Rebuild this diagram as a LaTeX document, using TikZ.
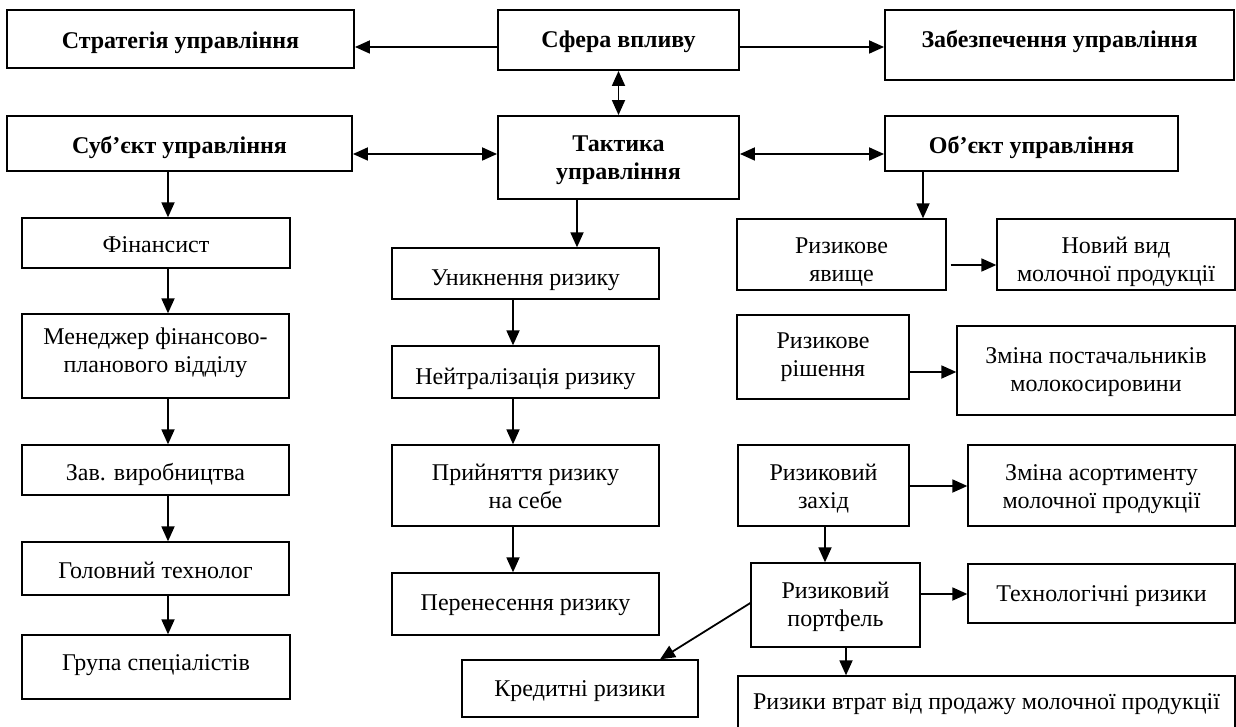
\documentclass[tikz,border=0pt]{standalone}
\usepackage{fontspec}
\setmainfont{Liberation Serif}
\usetikzlibrary{arrows.meta}

\tikzset{
    box/.style = {draw, line width=1.3pt, align=center, inner sep=0pt,
                  font=\fontsize{24}{28}\selectfont},
    topbox/.style = {box, line width=1.9pt, font=\fontsize{24}{28}\selectfont\bfseries},
    bl/.style = {text height=#1, text depth=0pt},
    arr/.style = {line width=1.8pt, -{Triangle[length=15pt,width=13pt]}},
    darr/.style = {line width=1.8pt, {Triangle[length=15pt,width=13pt]}-{Triangle[length=15pt,width=13pt]}}
}

\begin{document}
\begin{tikzpicture}[x=1pt, y=-1pt]
        \useasboundingbox (0, 0) rectangle (1236, 727);
        \clip (0, 0) rectangle (1236, 727);

        % upper level
        \node[topbox, bl=19pt, minimum width=347, minimum height=58] (strat) at (180.5, 39) {Стратегія управління};
        \node[topbox, bl=15pt, minimum width=241, minimum height=60] (sfera) at (618.5, 40) {Сфера впливу};
        \node[topbox, bl=6pt, minimum width=349, minimum height=70] (zabez) at (1059.5, 45) {Забезпечення управління};
        \node[topbox, bl=21pt, minimum width=345, minimum height=55] (subj) at (179.5, 143.5) {Суб’єкт управління};
        \node[topbox, bl=45pt, minimum width=241, minimum height=83] (takt) at (618.5, 157.5) {Тактика\\управління};
        \node[topbox, bl=21pt, minimum width=293, minimum height=55] (obj) at (1031.5, 143.5) {Об’єкт управління};

        % subject column
        \node[box, bl=19.4pt, minimum width=268, minimum height=50] (fin) at (156, 243) {Фінансист};
        \node[box, bl=32pt, minimum width=267, minimum height=84] (men) at (155.5, 356) {Менеджер фінансово-\\планового відділу};
        \node[box, bl=21.4pt, minimum width=267, minimum height=50] (zav) at (155.5, 470) {Зав. виробництва};
        \node[box, bl=19.6pt, minimum width=267, minimum height=53] (golov) at (155.5, 568.5) {Головний технолог};
        \node[box, bl=7.4pt, minimum width=268, minimum height=64] (grupa) at (156, 667) {Група спеціалістів};

        % tactics column
        \node[box, bl=24.4pt, minimum width=267, minimum height=51] (unyk) at (525.5, 273.5) {Уникнення ризику};
        \node[box, bl=24pt, minimum width=267, minimum height=52] (neutr) at (525.5, 372) {Нейтралізація ризику};
        \node[box, bl=45.6pt, minimum width=267, minimum height=81] (pryin) at (525.5, 485.5) {Прийняття ризику\\на себе};
        \node[box, bl=13.4pt, minimum width=267, minimum height=62] (peren) at (525.5, 604) {Перенесення ризику};
        \node[box, bl=15pt, minimum width=236, minimum height=57] (kred) at (580, 688.5) {Кредитні ризики};

        % object column
        \node[box, bl=54.4pt, minimum width=209, minimum height=71] (yavy) at (841.5, 254.5) {Ризикове\\явище};
        \node[box, bl=54.4pt, minimum width=238, minimum height=71] (novyi) at (1116, 254.5) {Новий вид\\молочної продукції};
        \node[box, bl=39.4pt, minimum width=172, minimum height=84] (rish) at (823, 357) {Ризикове\\рішення};
        \node[box, bl=42.4pt, minimum width=278, minimum height=89] (postach) at (1096, 370.5) {Зміна постачальників\\молокосировини};
        \node[box, bl=45pt, minimum width=171, minimum height=81] (zakhid) at (823.5, 485.5) {Ризиковий\\захід};
        \node[box, bl=45.6pt, minimum width=267, minimum height=81] (asort) at (1101.5, 485.5) {Зміна асортименту\\молочної продукції};
        \node[box, bl=43.4pt, minimum width=169, minimum height=84] (portf) at (835.5, 605) {Ризиковий\\портфель};
        \node[box, bl=15pt, minimum width=267, minimum height=59] (tekhn) at (1101.5, 593.5) {Технологічні ризики};
        \node[box, bl=11.4pt, minimum width=497, minimum height=56] (vtrat) at (986.5, 704) {Ризики втрат від продажу молочної продукції};

        % links between levels
        \draw[arr] ([yshift=-7pt]sfera.west) -- ([yshift=-7pt]sfera.west -| strat.east);
        \draw[arr] ([yshift=-7pt]sfera.east) -- ([yshift=-7pt]sfera.east -| zabez.west);
        \draw[darr] (sfera.south) -- (takt.north);
        \draw[darr] ([yshift=-10.5pt]subj.east) -- ([yshift=-10.5pt]subj.east -| takt.west);
        \draw[darr] ([yshift=-10.5pt]obj.west) -- ([yshift=-10.5pt]obj.west -| takt.east);

        \draw[arr] ([xshift=-11.5pt]subj.south) -- ([xshift=-11.5pt]subj.south |- fin.north);
        \draw[arr] ([xshift=12pt]fin.south) -- ([xshift=12pt]fin.south |- men.north);
        \draw[arr] ([xshift=12.5pt]men.south) -- ([xshift=12.5pt]men.south |- zav.north);
        \draw[arr] ([xshift=12.5pt]zav.south) -- ([xshift=12.5pt]zav.south |- golov.north);
        \draw[arr] ([xshift=12.5pt]golov.south) -- ([xshift=12.5pt]golov.south |- grupa.north);

        \draw[arr] ([xshift=-41.5pt]takt.south) -- ([xshift=-41.5pt]takt.south |- unyk.north);
        \draw[arr] ([xshift=-12.5pt]unyk.south) -- ([xshift=-12.5pt]unyk.south |- neutr.north);
        \draw[arr] ([xshift=-12.5pt]neutr.south) -- ([xshift=-12.5pt]neutr.south |- pryin.north);
        \draw[arr] ([xshift=-12.5pt]pryin.south) -- ([xshift=-12.5pt]pryin.south |- peren.north);

        \draw[arr] ([xshift=-108.5pt]obj.south) -- ([xshift=-108.5pt]obj.south |- yavy.north);
        \draw[arr, shorten <=4pt] ([yshift=-10.5pt]yavy.east) -- ([yshift=-10.5pt]yavy.east -| novyi.west);
        \draw[arr] ([yshift=-15pt]rish.east) -- ([yshift=-15pt]rish.east -| postach.west);
        \draw[arr] ([yshift=-0.5pt]zakhid.east) -- ([yshift=-0.5pt]zakhid.east -| asort.west);
        \draw[arr] ([xshift=1.5pt]zakhid.south) -- ([xshift=1.5pt]zakhid.south |- portf.north);
        \draw[arr] ([yshift=11pt]portf.east) -- ([yshift=11pt]portf.east -| tekhn.west);
        \draw[arr] ([xshift=10.5pt]portf.south) -- ([xshift=10.5pt]portf.south |- vtrat.north);
        \draw[arr] ([yshift=2pt]portf.west) -- ([xshift=80pt]kred.north);
    \end{tikzpicture}
\end{document}
